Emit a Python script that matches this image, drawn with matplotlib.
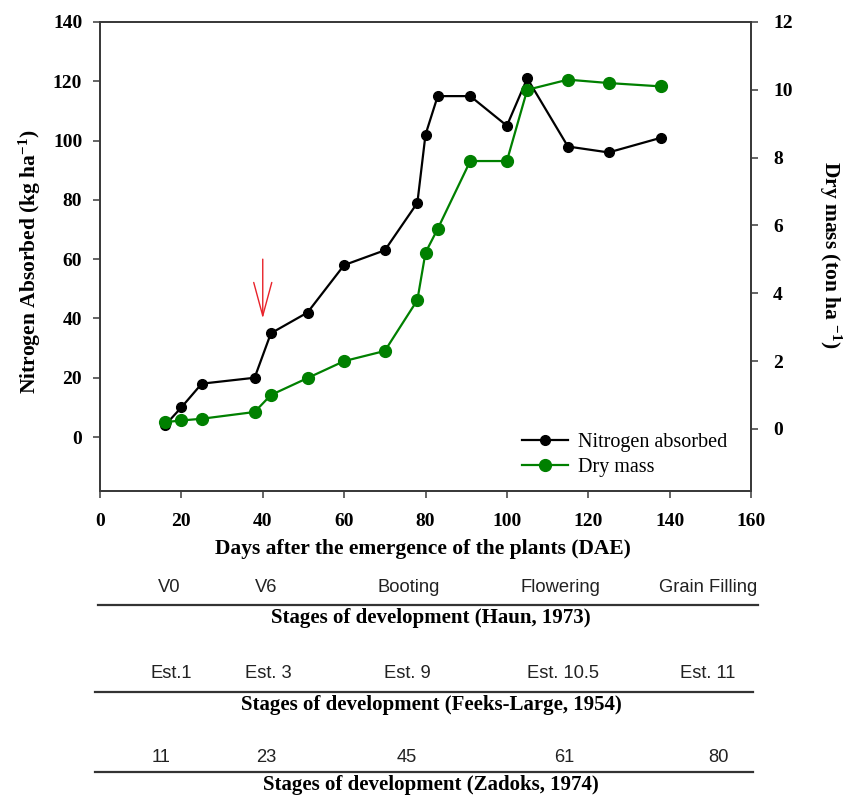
import matplotlib
matplotlib.use("Agg")
import matplotlib.pyplot as plt
from matplotlib.lines import Line2D

# Sampling days after emergence (DAE)
days = [16, 20, 25, 38, 42, 51, 60, 70, 78, 80, 83, 91, 100, 105, 115, 125, 138]
# Nitrogen absorbed (kg ha-1)
nitrogen = [4, 10, 18, 20, 35, 42, 58, 63, 79, 102, 115, 115, 105, 121, 98, 96, 101]
# Dry mass (ton ha-1)
dry_mass = [0.2, 0.25, 0.3, 0.5, 1.0, 1.5, 2.0, 2.3, 3.8, 5.2, 5.9, 7.9, 7.9, 10.0, 10.3, 10.2, 10.1]

# Nitrogen application marker (day, from/to nitrogen level)
arrow_day = 40
arrow_from = 60
arrow_to = 40

x_ticks = [0, 20, 40, 60, 80, 100, 120, 140, 160]
n_ticks = [0, 20, 40, 60, 80, 100, 120, 140]
dm_ticks = [0, 2, 4, 6, 8, 10, 12]

haun_stages = ["V0", "V6", "Booting", "Flowering", "Grain Filling"]
feeks_stages = ["Est.1", "Est. 3", "Est. 9", "Est. 10.5", "Est. 11"]
zadoks_stages = ["11", "23", "45", "61", "80"]

haun_title = "Stages of development (Haun, 1973)"
feeks_title = "Stages of development (Feeks-Large, 1954)"
zadoks_title = "Stages of development (Zadoks, 1974)"

W, H = 847, 796
SERIF = "Liberation Serif"
SANS = "Liberation Sans"

plt.rcParams["font.family"] = [SERIF, "DejaVu Serif"]
plt.rcParams["mathtext.fontset"] = "custom"
plt.rcParams["mathtext.rm"] = "Liberation Serif:bold"
plt.rcParams["mathtext.bf"] = "Liberation Serif:bold"
plt.rcParams["mathtext.it"] = "Liberation Serif:bold:italic"


def fx(px):
    return px / W


def fy(py):
    return 1 - py / H


fig = plt.figure(figsize=(W / 100, H / 100), dpi=100)
ax = fig.add_axes([fx(100), fy(491), (751 - 100) / W, (491 - 22) / H])
ax2 = ax.twinx()

spine_col = "#3a3a3a"
for a in (ax, ax2):
    for s in a.spines.values():
        s.set_color(spine_col)
        s.set_linewidth(1.3)

(l_n,) = ax.plot(days, nitrogen, color="black", lw=1.6, marker="o",
                 markersize=7, label="Nitrogen absorbed", zorder=3)
(l_dm,) = ax2.plot(days, dry_mass, color="#008000", lw=1.6, marker="o",
                   markersize=8.5, label="Dry mass", zorder=3)

ax.set_xlim(0, 160)
ax.set_ylim(-18.2, 140)
ax2.set_ylim(-1.83, 12)
ax.set_xticks(x_ticks)
ax.set_yticks(n_ticks)
ax2.set_yticks(dm_ticks)

tick_kw = dict(direction="out", length=4.8, width=1.1, color=spine_col,
               labelsize=14, labelcolor="black")
ax.tick_params(axis="x", pad=11, **tick_kw)
ax.tick_params(axis="y", pad=8, **tick_kw)
ax2.tick_params(axis="y", pad=11, **tick_kw)
for lab in ax.get_xticklabels() + ax.get_yticklabels() + ax2.get_yticklabels():
    lab.set_fontweight("bold")

ax.annotate("", xy=(arrow_day, arrow_to), xytext=(arrow_day, arrow_from),
            arrowprops=dict(arrowstyle="->,head_length=2.4,head_width=0.65",
                            color="#e8222a", lw=1.0, mutation_scale=10,
                            shrinkA=0, shrinkB=0))

leg = ax2.legend([l_n, l_dm], ["Nitrogen absorbed", "Dry mass"],
                 loc="upper left", bbox_to_anchor=(fx(522), fy(433)),
                 bbox_transform=fig.transFigure, frameon=False,
                 borderpad=0, borderaxespad=0, handlelength=2.3,
                 handletextpad=0.5, labelspacing=0.3,
                 prop={"family": SERIF, "size": 14.5})

# Axis titles
fig.text(fx(30), fy(262), r"Nitrogen Absorbed (kg ha$^{-1}$)", rotation=90,
         ha="center", va="center", fontsize=15.5, fontweight="bold")
fig.text(fx(830), fy(255), r"Dry mass (ton ha $^{-1}$)", rotation=270,
         ha="center", va="center", fontsize=15.5, fontweight="bold")
fig.text(fx(423), fy(549), "Days after the emergence of the plants (DAE)",
         ha="center", va="center", fontsize=15.5, fontweight="bold")

# Development-stage scales below the chart
rows = [
    (haun_stages, [169, 266, 409, 560, 708], 587, 605, (98, 758), haun_title, 618),
    (feeks_stages, [171, 268, 407, 563, 708], 674, 692, (95, 753), feeks_title, 705),
    (zadoks_stages, [161, 266, 407, 564, 718], 757, 772, (95, 753), zadoks_title, 785),
]
for labels, xs, ly, rule_y, (x0, x1), title, ty in rows:
    for lab, xp in zip(labels, xs):
        fig.text(fx(xp), fy(ly), lab, ha="center", va="center",
                 fontsize=13.2, family=SANS, color="#222222")
    fig.add_artist(Line2D([fx(x0), fx(x1)], [fy(rule_y), fy(rule_y)],
                          transform=fig.transFigure, color="#333333", lw=1.6))
    fig.text(fx(431), fy(ty), title, ha="center", va="center",
             fontsize=15, fontweight="bold")

fig.savefig("out.png", dpi=100, facecolor="white")
